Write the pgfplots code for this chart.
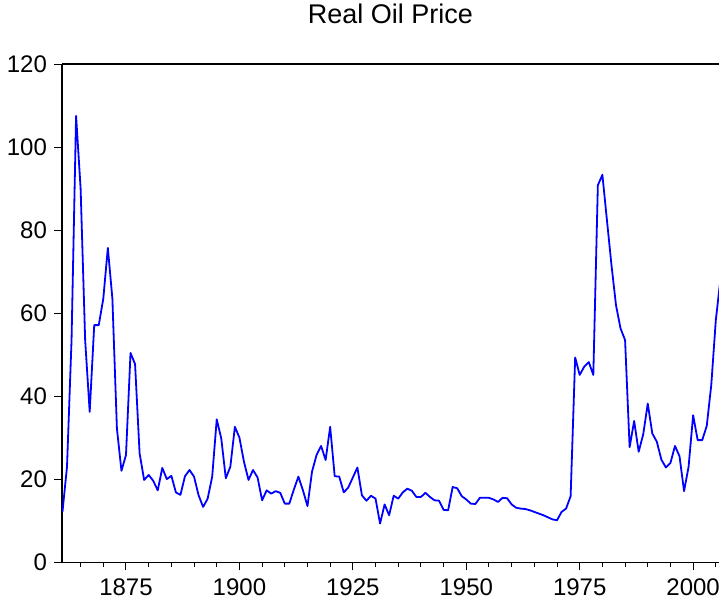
\documentclass[border=0pt]{standalone}
\usepackage{pgfplots}
\pgfplotsset{compat=1.18}
\usepackage{fontspec}
\setmainfont{Liberation Sans}
\begin{document}
\begin{tikzpicture}
\begin{axis}[
  width=328.4pt, height=249pt, scale only axis,
  xmin=1860.9, xmax=2005.7, ymin=0, ymax=120,
  axis x line=box, axis y line=left,
  axis line style={-, line width=0.6pt, black},
  xtick={1875,1900,1925,1950,1975,2000},
  minor xtick={1865,1870,...,2005},
  ytick={0,20,...,120},
  xtick pos=bottom, ytick pos=left,
  tick align=outside,
  major tick length=4pt, minor tick length=2.3pt,
  every tick/.style={black, line width=0.5pt},
  /pgf/number format/assume math mode=true,
  xticklabel style={/pgf/number format/1000 sep={}, yshift=-1pt},
  tick label style={font=\fontsize{12}{14}\selectfont},
  title={Real Oil Price},
  title style={at={(0.5,1)}, anchor=center, yshift=19pt, font=\fontsize{13.5}{16}\selectfont},
  clip=true,
]
\addplot[blue, line width=0.9pt, line join=round] coordinates {
(1861,12.1) (1862,23.0) (1863,53.5) (1864,107.5) (1865,90) (1866,53.5) (1867,36.2) (1868,57.1) (1869,57.1) (1870,63.5)
(1871,75.7) (1872,63.5) (1873,32.2) (1874,22) (1875,25.8) (1876,50.4) (1877,47.7) (1878,26.2) (1879,19.8) (1880,21.0)
(1881,19.6) (1882,17.3) (1883,22.7) (1884,20) (1885,20.8) (1886,16.8) (1887,16.2) (1888,20.7) (1889,22.2) (1890,20.6)
(1891,16.1) (1892,13.3) (1893,15.3) (1894,20.6) (1895,34.4) (1896,29.8) (1897,20.2) (1898,23) (1899,32.6) (1900,30.0)
(1901,24.2) (1902,19.8) (1903,22.2) (1904,20.4) (1905,14.9) (1906,17.3) (1907,16.5) (1908,17.1) (1909,16.7) (1910,14.1)
(1911,14.1) (1912,17.5) (1913,20.6) (1914,17.3) (1915,13.5) (1916,21.8) (1917,25.8) (1918,28) (1919,24.6) (1920,32.6)
(1921,20.7) (1922,20.6) (1923,16.8) (1924,18) (1925,20.4) (1926,22.8) (1927,16.1) (1928,14.8) (1929,16) (1930,15.3)
(1931,9.3) (1932,13.9) (1933,11.3) (1934,16) (1935,15.3) (1936,16.8) (1937,17.7) (1938,17.2) (1939,15.7) (1940,15.7)
(1941,16.7) (1942,15.7) (1943,14.9) (1944,14.8) (1945,12.6) (1946,12.5) (1947,18.1) (1948,17.8) (1949,15.9) (1950,15.1)
(1951,14.1) (1952,14.0) (1953,15.5) (1954,15.5) (1955,15.5) (1956,15.1) (1957,14.5) (1958,15.5) (1959,15.4) (1960,13.9)
(1961,13.1) (1962,12.9) (1963,12.8) (1964,12.5) (1965,12.1) (1966,11.7) (1967,11.3) (1968,10.8) (1969,10.3) (1970,10.1)
(1971,12.1) (1972,12.9) (1973,15.9) (1974,49.3) (1975,45.1) (1976,47.1) (1977,48.2) (1978,45.1) (1979,90.8) (1980,93.3)
(1981,82.4) (1982,71.6) (1983,61.9) (1984,56.3) (1985,53.5) (1986,27.7) (1987,34.0) (1988,26.6) (1989,30.8) (1990,38.2)
(1991,31) (1992,29) (1993,24.7) (1994,22.8) (1995,23.9) (1996,28) (1997,25.5) (1998,17.1) (1999,23) (2000,35.4)
(2001,29.4) (2002,29.4) (2003,32.8) (2004,42.7) (2005,58.3) (2006,68)
};
\end{axis}
\pgfresetboundingbox
\useasboundingbox (-31pt,-23.5pt) rectangle (328.4pt,281pt);
\end{tikzpicture}
\end{document}
